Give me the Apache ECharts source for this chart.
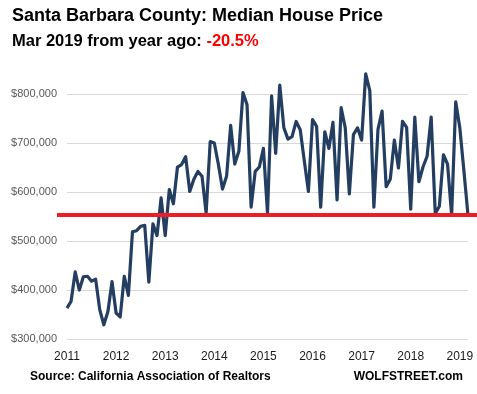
<!DOCTYPE html>
<html>
<head>
<meta charset="utf-8">
<script src="https://cdn.jsdelivr.net/npm/echarts@6/dist/echarts.min.js"></script>
<style>
  html, body { margin: 0; padding: 0; background: #fff; }
  #chart { width: 477px; height: 394px; }
</style>
</head>
<body>
<div id="chart"></div>
<script>
// Monthly median house price, Santa Barbara County, Jan 2011 – Mar 2019 (thousands of $)
const startYear = 2011;
const yearLabels = ['2011','2012','2013','2014','2015','2016','2017','2018','2019'];
const prices = [
  363, 377, 437, 400, 427, 428, 418, 422, 360, 329, 356, 417,   // 2011
  353, 345, 428, 389, 519, 521, 530, 532, 416, 535, 511, 588,   // 2012
  511, 605, 576, 651, 656, 672, 601, 626, 642, 632, 557, 703,   // 2013
  700, 656, 606, 632, 736, 657, 683, 803, 778, 569, 642, 651,   // 2014
  689, 557, 796, 679, 818, 731, 708, 713, 744, 727, 663, 601,   // 2015
  748, 734, 569, 723, 689, 742, 584, 772, 731, 596, 717, 731,   // 2016
  706, 841, 807, 569, 728, 765, 611, 626, 706, 649, 744, 732,   // 2017
  565, 753, 621, 651, 673, 753, 556, 571, 676, 657, 553, 784,   // 2018
  731, 643, 553                                                 // 2019
];
const yTicks = { min: 300, max: 800, interval: 100 };

const categories = prices.map((_, i) => {
  const y = startYear + Math.floor(i / 12);
  const m = (i % 12) + 1;
  return y + '-' + (m < 10 ? '0' + m : m);
});
const lastValue = prices[prices.length - 1];

const chart = echarts.init(document.getElementById('chart'), null, { renderer: 'canvas' });
const FONT = '"Liberation Sans", Arial, sans-serif';

chart.setOption({
  animation: false,
  backgroundColor: '#ffffff',
  title: [
    {
      text: 'Santa Barbara County: Median House Price',
      left: 7, top: 2,
      textStyle: { fontFamily: FONT, fontSize: 18, fontWeight: 'bold', color: '#000' }
    },
    {
      text: '{a|Mar 2019 from year ago: }{b|-20.5%}',
      left: 7, top: 28,
      textStyle: {
        rich: {
          a: { fontFamily: FONT, fontSize: 16.5, fontWeight: 'bold', color: '#000' },
          b: { fontFamily: FONT, fontSize: 16.5, fontWeight: 'bold', color: '#ff0000' }
        }
      }
    },
    {
      text: 'Source: California Association of Realtors',
      left: 25, top: 366,
      textStyle: { fontFamily: FONT, fontSize: 12, fontWeight: 'bold', color: '#000' }
    },
    {
      text: 'WOLFSTREET.com',
      right: 9, top: 366,
      textStyle: { fontFamily: FONT, fontSize: 12, fontWeight: 'bold', color: '#000' }
    }
  ],
  grid: { left: 67, right: 9, top: 94, bottom: 55, containLabel: false },
  xAxis: {
    type: 'category',
    data: categories,
    boundaryGap: false,
    axisLine: { show: false },
    axisTick: { show: false },
    splitLine: { show: false },
    axisLabel: {
      interval: (idx) => idx % 12 === 0,
      formatter: (v) => {
        const y = v.slice(0, 4);
        return yearLabels.indexOf(y) >= 0 ? y : '';
      },
      margin: 12,
      fontFamily: FONT, fontSize: 12, color: '#1a1a1a'
    }
  },
  yAxis: {
    type: 'value',
    min: yTicks.min, max: yTicks.max, interval: yTicks.interval,
    axisLine: { show: false },
    axisTick: { show: false },
    splitLine: { lineStyle: { color: '#d9d9d9', width: 1 } },
    axisLabel: {
      formatter: (v) => '$' + (v * 1000).toLocaleString('en-US'),
      margin: 10,
      fontFamily: FONT, fontSize: 11, color: '#595959'
    }
  },
  series: [{
    type: 'line',
    data: prices,
    clip: false,
    showSymbol: false,
    symbol: 'none',
    lineStyle: { color: '#233E60', width: 3.2, join: 'round' },
    itemStyle: { color: '#233E60' },
    markLine: {
      silent: true,
      symbol: ['none', 'none'],
      label: { show: false },
      lineStyle: { color: '#ee1c25', width: 4, type: 'solid' },
      data: [[ { yAxis: lastValue, x: 57 }, { yAxis: lastValue, x: 477 } ]]
    }
  }]
});
</script>
</body>
</html>
